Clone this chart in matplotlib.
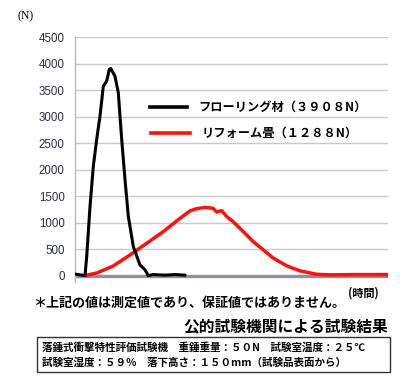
import matplotlib
matplotlib.use("Agg")
import matplotlib.pyplot as plt
from matplotlib.lines import Line2D

plt.rcParams['font.family'] = ['Noto Sans CJK JP', 'DejaVu Sans']

# time axis (arbitrary units) and force values (N)
floor_t = [0, 10, 11.7, 15, 18.3, 21.7, 25, 28.3, 31.7, 34.3, 35.7, 40, 43.3, 46.7, 50,
           53.3, 58.3, 65, 70, 73.3, 78, 90, 100, 110]
floor_v = [30, 0, 360, 1300, 2060, 2570, 3010, 3570, 3670, 3890, 3908, 3760, 3450, 2570, 1810,
           1120, 550, 200, 110, 0, 20, 10, 20, 10]

tatami_t = [10, 21.7, 38, 55, 71.7, 88.3, 105, 115, 121, 130, 138, 141.7, 146.7, 151.7, 158,
            168.3, 178.3, 188.3, 198.3, 211.7, 225, 241.7, 255, 280, 313]
tatami_v = [0, 50, 180, 390, 610, 830, 1080, 1220, 1260, 1288, 1270, 1200, 1225, 1115, 1020,
            830, 640, 485, 330, 185, 90, 25, 15, 20, 20]

yticks = [0, 500, 1000, 1500, 2000, 2500, 3000, 3500, 4000, 4500]
legend_labels = ['フローリング材（３９０８N）', 'リフォーム畳（１２８８N）']

W, H = 400, 385
fig = plt.figure(figsize=(W / 100, H / 100), dpi=100)
ax = fig.add_axes([75 / W, 1 - 282 / H, (388 - 75) / W, (282 - 37) / H])

ax.set_xlim(0, 313)
ax.set_ylim(-120, 4500)
for s in ['top', 'right', 'bottom']:
    ax.spines[s].set_visible(False)
ax.spines['left'].set_color('#b8b8c0')
ax.spines['left'].set_linewidth(1)
ax.set_xticks([])
ax.set_yticks(yticks)
ax.set_yticklabels([str(v) for v in yticks], fontsize=8.3, color='#2a3048',
                   family=['Liberation Sans', 'DejaVu Sans'])
ax.tick_params(axis='y', length=0, pad=7.5)
for v in yticks[1:]:
    ax.axhline(v, color='#c8c8d2', lw=1, zorder=0)
ax.axhline(0, color='#958c9c', lw=2.4, zorder=1)

ax.plot(tatami_t, tatami_v, color='#ff1010', lw=2.5, zorder=3,
        solid_joinstyle='round', solid_capstyle='round')
ax.plot(floor_t, floor_v, color='black', lw=2.2, zorder=4,
        solid_joinstyle='round', solid_capstyle='round')

# legend
fig.add_artist(Line2D([150 / W, 187 / W], [1 - 107 / H, 1 - 107 / H], color='black', lw=2.6))
fig.add_artist(Line2D([151 / W, 190 / W], [1 - 133 / H, 1 - 133 / H], color='#ff1010', lw=2.6))
fig.text(198 / W, 1 - 107 / H, legend_labels[0], fontsize=8.8, weight='bold', va='center', ha='left')
fig.text(202 / W, 1 - 133 / H, legend_labels[1], fontsize=8.8, weight='bold', va='center', ha='left')

fig.text(26 / W, 1 - 16 / H, '(N)', fontsize=8.5, ha='center', va='center',
         family=['Liberation Serif', 'DejaVu Serif'])
fig.text(363 / W, 1 - 293 / H, '(時間)', fontsize=8, weight='bold', ha='center', va='center')
fig.text(33 / W, 1 - 303 / H, '＊上記の値は測定値であり、保証値ではありません。', fontsize=9.4,
         weight='bold', ha='left', va='center')
fig.text(388 / W, 1 - 326 / H, '公的試験機関による試験結果', fontsize=11.3,
         weight='bold', ha='right', va='center')

box = plt.Rectangle((37 / W, 1 - 372 / H), (390 - 37) / W, (372 - 337) / H,
                    transform=fig.transFigure, fill=False, ec='#333333', lw=1)
fig.add_artist(box)
fig.text(42 / W, 1 - 347 / H, '落錘式衝撃特性評価試験機　重錘重量：５０N　試験室温度：２５℃',
         fontsize=7.6, weight='bold', ha='left', va='center')
fig.text(42 / W, 1 - 363 / H, '試験室湿度：５９％　落下高さ：１５０mm（試験品表面から）',
         fontsize=7.6, weight='bold', ha='left', va='center')

fig.savefig('out.png', dpi=100, facecolor='white')
